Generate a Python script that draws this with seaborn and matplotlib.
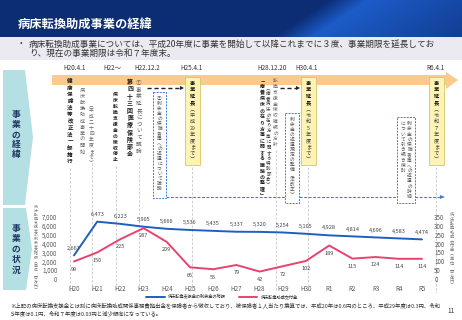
import numpy as np
import matplotlib
matplotlib.use("Agg")
import matplotlib.pyplot as plt
import seaborn as sns
from matplotlib.patches import Polygon, Rectangle

# データ（百万円）
years = ["H20", "H21", "H22", "H23", "H24", "H25", "H26", "H27",
         "H28", "H29", "H30", "R1", "R2", "R3", "R4", "R5"]
surplus = [2667, 6473, 6223, 5905, 5666, 5536, 5435, 5337,
           5320, 5254, 5105, 4928, 4814, 4696, 4583, 4474]
grants = [99, 150, 225, 287, 209, 66, 55, 79,
          42, 72, 102, 189, 115, 124, 114, 114]
series_names = ["病床転換支援金の剰余金の総額", "病床転換助成交付金"]
left_ticks = [0, 1000, 2000, 3000, 4000, 5000, 6000, 7000]
right_ticks = [0, 50, 100, 150, 200, 250, 300, 350]

BLUE = "#1f5fc0"
PINK = "#e8426d"
NAVY = "#0c2c74"
TEAL = "#b4dfe3"
ORANGE = "#fbca8c"
DASHBLUE = "#3a7ddb"

sns.set_theme(style="white")
plt.rcParams["font.family"] = ["Noto Sans CJK JP", "DejaVu Sans"]

W, H = 462, 320
fig = plt.figure(figsize=(4.62, 3.2), dpi=100)
bg = fig.add_axes([0, 0, 1, 1])

# タイトル帯（グラデーション）
xx, yy = np.meshgrid(np.arange(W), np.arange(37))
d = xx - (272 + (37 - yy) * 1.5)
t = np.clip(d / 40, 0, 1) * (1 - 0.6 * np.clip((d - 40) / 140, 0, 1))
c0 = np.array([12, 44, 116]) / 255
c1 = np.array([28, 92, 200]) / 255
img = c0[None, None, :] * (1 - t[..., None]) + c1[None, None, :] * t[..., None]
bg.imshow(img, extent=[0, W, 37, 0], aspect="auto", zorder=0)
bg.add_patch(Rectangle((0, 37), W, 23, fc="#eaeaf0", ec="none", zorder=0))
bg.set_xlim(0, W)
bg.set_ylim(H, 0)
bg.axis("off")

bg.text(18, 25, "病床転換助成事業の経緯", color="white", fontsize=8.8,
        fontweight="bold", va="center")
bg.text(17, 44, "・", fontsize=6.2, color="#333", va="center")
bg.text(29, 44, "病床転換助成事業については、平成20年度に事業を開始して以降これまでに３度、事業期限を延長してお",
        fontsize=6.2, color="#333", va="center")
bg.text(29, 53.5, "り、現在の事業期限は令和７年度末。", fontsize=6.2, color="#333", va="center")

VMAP = {"（": "︵", "）": "︶", "「": "﹁", "」": "﹂", "、": "︑", "：": "︓"}


def tokens(s):
    out = []
    for ch in s:
        if ch.isascii() and ch.isalnum() and out and out[-1].isascii() and out[-1].isalnum():
            out[-1] += ch
        else:
            out.append(ch)
    return out


def vtext(x, y0, s, step, color="#444", weight="normal", size=None):
    if size is None:
        size = step * 0.72 * 0.82
    for i, tk in enumerate(tokens(s)):
        bg.text(x, y0 + step * (i + 0.5), VMAP.get(tk, tk), fontsize=size,
                ha="center", va="center", color=color, fontweight=weight, zorder=6)
    return y0 + step * len(tokens(s))


# 左の見出し（矢羽根）
bg.add_patch(Polygon([(3, 70), (25, 70), (33, 137), (25, 205), (3, 205)],
                     closed=True, fc=TEAL, ec="none"))
bg.add_patch(Polygon([(3, 208), (26, 208), (32, 249), (26, 290), (3, 290)],
                     closed=True, fc=TEAL, ec="none"))
vtext(16, 110, "事業の経緯", 10, color="#1c3660", weight="bold", size=6.3)
vtext(16, 223, "事業の状況", 10.5, color="#1c3660", weight="bold", size=6.3)

# 縦の点線
for x, y0, y1 in [(70, 168, 291), (92, 163, 291), (116, 166, 291), (139, 158, 291),
                  (192, 167, 291), (276, 150, 291), (308, 167, 291), (436, 167, 293)]:
    bg.plot([x, x], [y0, y1], color="#c4c4c4", lw=0.6, dashes=(3, 2), zorder=1)

# 時間軸（オレンジ矢印）
bg.add_patch(Polygon([(52, 75), (446, 75), (446, 72), (458, 80), (446, 89), (446, 85), (52, 85)],
                     closed=True, fc=ORANGE, ec="none", zorder=2))
for lab, x in [("H20.4.1", 75), ("H22〜", 112), ("H22.12.2", 147), ("H25.4.1", 192),
               ("H28.12.20", 272), ("H30.4.1", 307), ("R6.4.1", 436)]:
    bg.text(x, 67.5, lab, fontsize=4.6, color="#333", ha="center", va="center")

# H20 - H22
vtext(70, 78, "健康保険法等改正法一部施行", 6.7, color="#1a1a1a", weight="bold")
vtext(82, 87, "病床転換助成事業の開始", 6.2, color="#666")
vtext(91.5, 102, "（平成二十四年度まで）", 5.8, color="#666")
vtext(115, 92, "病床転換支援金の徴収停止", 5.9, color="#1a1a1a", weight="bold")
vtext(130, 78, "第四十三回医療保険部会", 7.2, color="#1a1a1a", weight="bold")
vtext(139, 80, "①事業延長について議論", 6.8, color="#666")


def black_arrow(x0, x1, y):
    bg.plot([x0, x1 - 3], [y, y], color="#222", lw=1.0, dashes=(3, 2), zorder=3)
    bg.add_patch(Polygon([(x1 - 4, y - 2), (x1, y), (x1 - 4, y + 2)], closed=True,
                         fc="#222", ec="none", zorder=3))


black_arrow(147, 184, 88)
black_arrow(280, 300, 88)

# 青点線（返還の議論）
bg.plot([166, 440], [197, 197], color=DASHBLUE, lw=0.8, dashes=(2.5, 1.5), zorder=3)
bg.add_patch(Polygon([(440, 195), (445, 197), (440, 199)], closed=True,
                     fc=DASHBLUE, ec="none", zorder=3))
for x, y, w, h in [(153, 92, 13, 106), (285, 113, 14, 90), (397, 117, 18, 86)]:
    bg.add_patch(Rectangle((x, y), w, h, fc="white", ec=DASHBLUE, lw=0.7,
                           ls=(0, (2, 1.2)), zorder=4))
vtext(159.5, 96, "②剰余金の保険者等への返還について議論", 5.0, color="#555", size=3.4)
vtext(292, 117, "剰余金の返還規定の整備（法改正）", 5.0, color="#555", size=3.4)
vtext(409.5, 121, "剰余金の保険者等への返還の詳細", 5.2, color="#555", size=3.4)
vtext(403, 121, "について引き続き検討", 5.2, color="#555", size=3.4)

# H28.12.20
vtext(262, 78, "「療養病床の在り方等に関する議論の整理」", 6.0, color="#1a1a1a", weight="bold")
vtext(268.5, 85, "（療養病床の在り方等に関する特別部会）", 5.4, color="#333")
vtext(275.5, 78, "転換支援金徴収継続の方針", 5.8, color="#666")

# 事業延長の黄色い箱
for x, period in [(185, "（平成29年度まで）"), (301, "（令和5年度まで）"), (429, "（令和７年度まで）")]:
    bg.add_patch(Rectangle((x, 77), 15, 88, fc="#fdf3b5", ec="#d8c46a", lw=0.6, zorder=4))
    yy_ = vtext(x + 7.5, 80, "事業延長", 6.4, color="#1a1a1a", weight="bold")
    vtext(x + 7.5, yy_, period, 6.4, color="#444")

# グラフ
ax = fig.add_axes([62.4 / W, 1 - 279 / H, (433.6 - 62.4) / W, (279 - 217) / H])
ax.patch.set_alpha(0)
idx = np.arange(len(years))
sns.lineplot(x=idx, y=surplus, ax=ax, color=BLUE, linewidth=1.4)
ax.set_xlim(-0.5, len(years) - 0.5)
ax.set_ylim(0, 7000)
ax2 = ax.twinx()
sns.lineplot(x=idx, y=grants, ax=ax2, color=PINK, linewidth=1.4)
ax2.set_ylim(0, 350)

ax.set_xticks(idx, years)
ax.set_yticks(left_ticks, [f"{v:,}" for v in left_ticks])
ax2.set_yticks(right_ticks, [str(v) for v in right_ticks])
ax.tick_params(axis="x", length=0, labelsize=4.5, labelcolor="#595959", pad=4)
ax.tick_params(axis="y", length=0, labelsize=4.5, labelcolor="#595959", pad=3.6)
ax2.tick_params(axis="y", length=0, labelsize=4.5, labelcolor="#595959", pad=0.5)
for a in (ax, ax2):
    a.set_xlabel("")
    a.set_ylabel("")
    for s in a.spines.values():
        s.set_visible(False)
    a.grid(False)

for i, v in enumerate(surplus):
    ax.annotate(f"{v:,}", (i, v), xytext=(0, 5.3), textcoords="offset points",
                ha="center", va="center", fontsize=4, color="#444")
for i, v in enumerate(grants):
    ax2.annotate(str(v), (i, v), xytext=(0, -5.6), textcoords="offset points",
                 ha="center", va="center", fontsize=4, color="#444")

vtext(36, 205, "病床転換支援金の剰余金の総額（単位：百万円）", 3.95, color="#777", size=2.8)
vtext(452, 213, "病床転換助成交付金（単位：百万円）", 4.4, color="#777", size=3.0)

fig.legend([ax.lines[0], ax2.lines[0]], series_names, loc="center",
           bbox_to_anchor=(222 / W, 1 - 297 / H), ncol=2, fontsize=3, frameon=False,
           handlelength=4.5, columnspacing=3, handletextpad=0.8)

bg.text(10, 305, "※上記の病床転換支援金とは別に病床転換助成関係事務費拠出金を保険者から徴収しており、被保険者１人当たり換算では、平成20年は0.6円のところ、平成29年度は0.3円、令和",
        fontsize=3.9, color="#333", va="center")
bg.text(10, 313, "５年度は0.1円、令和７年度は0.03円と減少傾向になっている。",
        fontsize=3.9, color="#333", va="center")
bg.text(447, 311, "11", fontsize=4.6, color="#333", va="center")

fig.savefig("out.png", dpi=100)
